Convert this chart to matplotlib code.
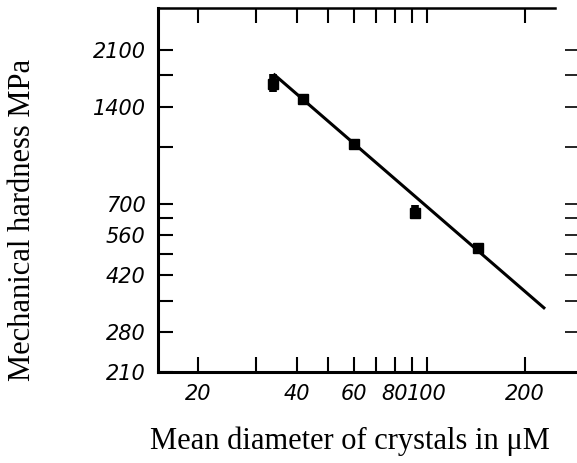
import matplotlib
matplotlib.use("Agg")
import matplotlib.pyplot as plt
from matplotlib.ticker import FixedLocator, FixedFormatter, NullLocator

# Mean crystal diameter (um) and mechanical hardness (MPa)
diameter = [34, 42, 60, 92, 143]
hardness = [1650, 1480, 1070, 655, 510]
hardness_low = [1550, 1450, 1045, 625, 495]
hardness_high = [1770, 1510, 1095, 695, 525]

# Regression line end points
fit_diameter = [34, 230]
fit_hardness = [1770, 330]

# Axis ticks
x_ticks = [20, 30, 40, 50, 60, 70, 80, 90, 100, 200]
x_labels = ["20", "", "40", "", "60", "", "80", "", "100", "200"]
y_ticks = [210, 280, 350, 420, 490, 560, 630, 700, 1050, 1400, 1750, 2100]
y_labels = ["210", "280", "", "420", "", "560", "", "700", "", "1400", "", "2100"]

W, H = 577, 463
fig = plt.figure(figsize=(W / 100, H / 100), dpi=100)
left, right, top, bottom = 158, 577, 8, 372
ax = fig.add_axes([left / W, 1 - bottom / H, (right - left) / W, (bottom - top) / H])

ax.set_xscale("log")
ax.set_yscale("log")
ax.set_xlim(15.09, 288)
ax.set_ylim(210, 2835)

# Regression line
ax.plot(fit_diameter, fit_hardness, color="black", lw=2.2, solid_capstyle="butt", zorder=3)

# Measured points with their spread
for x, y, lo, hi in zip(diameter, hardness, hardness_low, hardness_high):
    ax.plot([x, x], [lo, hi], color="black", lw=5.5, solid_capstyle="butt", zorder=4)
    ax.plot([x], [y], marker="s", ms=6.5, color="black", zorder=5)

# Spines
for side in ("left", "bottom"):
    ax.spines[side].set_linewidth(2.2)
ax.spines["top"].set_linewidth(1.8)
ax.spines["top"].set_bounds(15.09, 247)
ax.spines["right"].set_visible(False)

ax.xaxis.set_major_locator(FixedLocator(x_ticks))
ax.xaxis.set_major_formatter(FixedFormatter(x_labels))
ax.xaxis.set_minor_locator(NullLocator())
ax.yaxis.set_major_locator(FixedLocator(y_ticks))
ax.yaxis.set_major_formatter(FixedFormatter(y_labels))
ax.yaxis.set_minor_locator(NullLocator())

ax.tick_params(axis="both", which="major", direction="in", length=11, width=1.5,
               top=True, right=True, labelsize=15, pad=9)
ax.tick_params(axis="y", which="major", right=True, labelright=False)
for lbl in ax.get_xticklabels() + ax.get_yticklabels():
    lbl.set_fontstyle("italic")

# Shorter, thinner ticks along the right edge
for tick in ax.yaxis.get_major_ticks():
    tick.tick2line.set_markersize(8.5)
    tick.tick2line.set_markeredgewidth(1.2)

ax.set_facecolor("white")
fig.patch.set_facecolor("white")

fig.text(23 / W, 1 - 220 / H, "Mechanical hardness MPa", rotation=90,
         ha="center", va="center", family="Liberation Serif", fontsize=22)
fig.text(350 / W, 1 - 441 / H, "Mean diameter of crystals in \u03bcM",
         ha="center", va="center", family="Liberation Serif", fontsize=22)

fig.savefig("out.png", dpi=100)
